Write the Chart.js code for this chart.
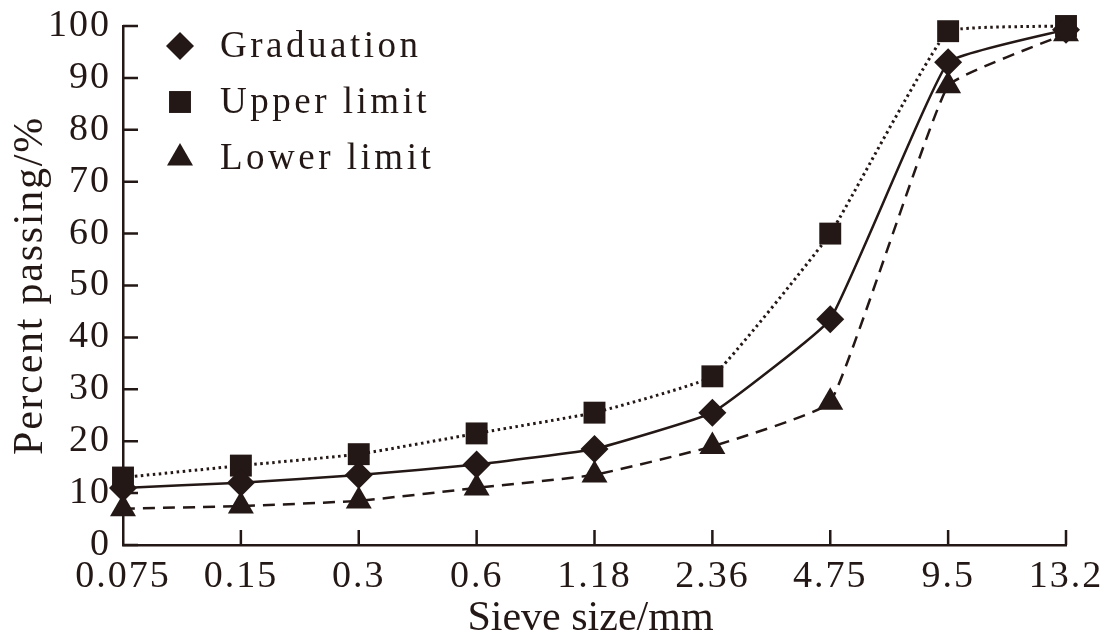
<!DOCTYPE html>
<html><head><meta charset="utf-8">
<script src="https://cdn.jsdelivr.net/npm/chart.js@4.4.1/dist/chart.umd.min.js"></script>
<style>html,body{margin:0;padding:0;background:#fff;overflow:hidden}#wrap{position:relative;width:1107px;height:639px}canvas{display:block}</style>
</head><body><div id="wrap"><canvas id="c" width="1107" height="639" style="width:1107px;height:639px"></canvas></div>
<script>
const sieveSizes = ['0.075','0.15','0.3','0.6','1.18','2.36','4.75','9.5','13.2'];
const graduation = [11, 12, 13.5, 15.5, 18.5, 25.5, 43.5, 93, 99.3];
const upperLimit = [13, 15.3, 17.5, 21.5, 25.5, 32.5, 60, 99, 100];
const lowerLimit = [7, 7.5, 8.5, 11, 13.5, 19, 27.5, 88.5, 98.5];
const seriesNames = ['Graduation', 'Upper limit', 'Lower limit'];
const xTitle = 'Sieve size/mm';
const yTitle = 'Percent passing/%';
const yMin = 0, yMax = 100, yStep = 10;

const INK = '#231815';
const SERIF = '"Liberation Serif", "DejaVu Serif", serif';
const TICK_SPACING = '2px';

const spacing = {
  id: 'spacing',
  beforeLayout(chart) { chart.ctx.letterSpacing = TICK_SPACING; },
  beforeDraw(chart) { chart.ctx.letterSpacing = TICK_SPACING; }
};

const innerTicks = {
  id: 'innerTicks',
  afterDraw(chart) {
    const ctx = chart.ctx, a = chart.chartArea;
    const xs = chart.scales.x, ys = chart.scales.y;
    ctx.save();
    ctx.strokeStyle = INK; ctx.lineWidth = 2.5;
    ctx.beginPath();
    ys.ticks.forEach((t, i) => {
      const y = ys.getPixelForTick(i);
      ctx.moveTo(a.left, y); ctx.lineTo(a.left + 15, y);
    });
    xs.ticks.forEach((t, i) => {
      if (i === 0) return;
      const x = xs.getPixelForTick(i);
      ctx.moveTo(x, a.bottom); ctx.lineTo(x, a.bottom - 15);
    });
    ctx.stroke();
    ctx.restore();
  }
};

const axisTitles = {
  id: 'axisTitles',
  afterDraw(chart) {
    const ctx = chart.ctx, a = chart.chartArea;
    ctx.save();
    ctx.fillStyle = INK;
    ctx.textAlign = 'center';
    ctx.textBaseline = 'alphabetic';
    ctx.font = '42px ' + SERIF;
    ctx.letterSpacing = '0px';
    ctx.fillText(xTitle, (a.left + a.right) / 2 - 4, 630);
    ctx.letterSpacing = '1.75px';
    ctx.translate(42, (a.top + a.bottom) / 2);
    ctx.rotate(-Math.PI / 2);
    ctx.fillText(yTitle, 0, 0);
    ctx.restore();
  }
};

const innerLegend = {
  id: 'innerLegend',
  afterDraw(chart) {
    const ctx = chart.ctx, a = chart.chartArea;
    ctx.save();
    ctx.fillStyle = INK;
    ctx.font = '37px ' + SERIF;
    ctx.textBaseline = 'middle';
    ctx.textAlign = 'left';
    ctx.letterSpacing = '3.5px';
    chart.data.datasets.forEach((ds, i) => {
      const cy = a.top + 20 + i * 56;
      const cx = a.left + 57;
      Chart.helpers.drawPoint(ctx, {pointStyle: ds.pointStyle, rotation: 0, radius: ds.pointRadius, borderWidth: 0}, cx, cy);
      ctx.fillText(ds.label, a.left + 97, cy + 1);
    });
    ctx.restore();
  }
};

new Chart(document.getElementById('c'), {
  type: 'line',
  data: {
    labels: sieveSizes,
    datasets: [
      { label: seriesNames[0], data: graduation, borderColor: INK, backgroundColor: INK, borderWidth: 2.5,
        pointStyle: 'rectRot', pointRadius: 14, pointBorderWidth: 0, tension: 0.1, clip: false },
      { label: seriesNames[1], data: upperLimit, borderColor: INK, backgroundColor: INK, borderWidth: 3, borderDash: [2.5, 3.5],
        pointStyle: 'rect', pointRadius: 15.5, pointBorderWidth: 0, tension: 0.1, clip: false },
      { label: seriesNames[2], data: lowerLimit, borderColor: INK, backgroundColor: INK, borderWidth: 2.5, borderDash: [12, 8],
        pointStyle: 'triangle', pointRadius: 15, pointBorderWidth: 0, tension: 0.1, clip: false }
    ]
  },
  options: {
    responsive: false, maintainAspectRatio: false, animation: false, devicePixelRatio: 1,
    layout: { padding: { top: 26, right: 41, left: 0, bottom: 0 } },
    plugins: { legend: { display: false }, tooltip: { enabled: false } },
    scales: {
      x: {
        type: 'category', offset: false,
        grid: { display: true, drawOnChartArea: false, drawTicks: false },
        border: { display: true, color: INK, width: 2.5 },
        ticks: { color: INK, font: { family: SERIF, size: 38 }, padding: 9, maxRotation: 0, autoSkip: false },
        afterFit(s) { s.height = 94; s.paddingLeft = 0; s.paddingRight = 0; }
      },
      y: {
        min: yMin, max: yMax,
        grid: { display: true, drawOnChartArea: false, drawTicks: false },
        border: { display: true, color: INK, width: 2.5 },
        ticks: { stepSize: yStep, color: INK, font: { family: SERIF, size: 38 }, padding: 12, autoSkip: false },
        afterFit(s) { s.width = 123; s.paddingTop = 0; s.paddingBottom = 0; }
      }
    }
  },
  plugins: [spacing, innerTicks, axisTitles, innerLegend]
});
</script></body></html>
